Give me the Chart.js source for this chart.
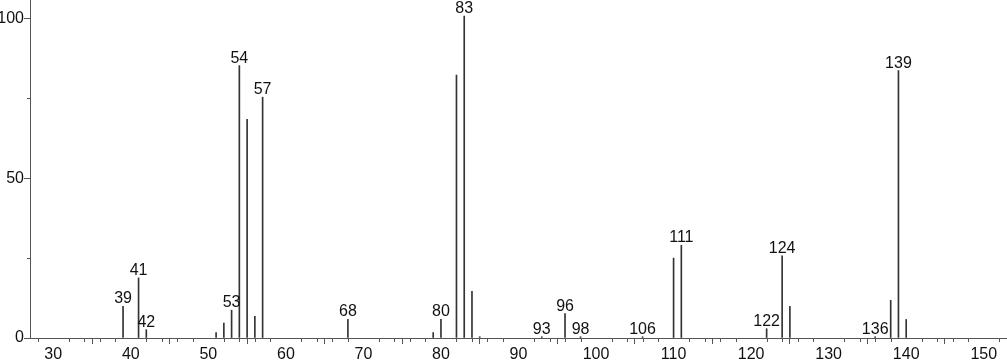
<!DOCTYPE html>
<html>
<head>
<meta charset="utf-8">
<script src="https://cdn.jsdelivr.net/npm/chart.js@4/dist/chart.umd.min.js"></script>
<style>
  html, body { margin: 0; padding: 0; background: #ffffff; }
  #wrap { width: 1007px; height: 362px; }
</style>
</head>
<body>
<div id="wrap"><canvas id="c" width="1007" height="362"></canvas></div>
<script>
// m/z values of the peaks
const mz = [39, 41, 42, 51, 52, 53, 54, 55, 56, 57, 68, 79, 80, 82, 83, 84, 85, 93, 96, 98, 106, 110, 111, 122, 124, 125, 136, 138, 139, 140];
// relative intensities (%)
const intensity = [9.9, 18.8, 2.6, 1.7, 4.7, 8.7, 85.2, 68.4, 6.8, 75.3, 5.8, 1.7, 5.8, 82.2, 100.7, 14.6, 0.4, 0.4, 7.6, 0.4, 0.4, 25.0, 29.0, 2.9, 25.7, 9.9, 0.4, 11.8, 83.6, 5.8];
// peaks that carry an m/z label
const labeledPeaks = [39, 41, 42, 53, 54, 57, 68, 80, 83, 93, 96, 98, 106, 111, 122, 124, 136, 139];
// axis ticks
const xMajorTicks = [30, 40, 50, 60, 70, 80, 90, 100, 110, 120, 130, 140, 150];
const xMinorTicks = [28, 32, 34, 36, 38, 42, 44, 46, 48, 52, 54, 56, 58, 62, 64, 66, 68, 72, 74, 76, 78, 82, 84, 86, 88, 92, 94, 96, 98, 102, 104, 106, 108, 112, 114, 116, 118, 122, 124, 126, 128, 132, 134, 136, 138, 142, 144, 146, 148, 152];
const yMajorTicks = [0, 50, 100];
const yMinorTicks = [25, 75];

const FONT_FAMILY = "'Liberation Sans Narrow', 'Arial Narrow', 'Liberation Sans', Arial, sans-serif";
const AXIS_COLOR = '#555555';
const PEAK_COLOR = '#333333';

const minorTicksPlugin = {
  id: 'minorTicks',
  afterDraw(chart) {
    const ctx = chart.ctx;
    const xs = chart.scales.x, ys = chart.scales.y;
    const area = chart.chartArea;
    ctx.save();
    ctx.strokeStyle = AXIS_COLOR;
    ctx.lineWidth = 1;
    ctx.beginPath();
    xMinorTicks.forEach(v => {
      const px = Math.round(xs.getPixelForValue(v)) + 0.5;
      ctx.moveTo(px, area.bottom);
      ctx.lineTo(px, area.bottom + 4);
    });
    yMinorTicks.forEach(v => {
      const py = Math.round(ys.getPixelForValue(v)) + 0.5;
      ctx.moveTo(area.left - 3, py);
      ctx.lineTo(area.left, py);
    });
    ctx.stroke();
    ctx.restore();
  }
};

const peakLabelPlugin = {
  id: 'peakLabels',
  afterDatasetsDraw(chart) {
    const ctx = chart.ctx;
    const meta = chart.getDatasetMeta(0);
    ctx.save();
    ctx.font = '16px ' + FONT_FAMILY;
    ctx.fillStyle = '#111111';
    ctx.textAlign = 'center';
    ctx.textBaseline = 'alphabetic';
    meta.data.forEach((el, i) => {
      if (labeledPeaks.includes(mz[i])) {
        ctx.fillText(String(mz[i]), el.x, el.y - 3);
      }
    });
    ctx.restore();
  }
};

new Chart(document.getElementById('c'), {
  type: 'bar',
  data: {
    datasets: [{
      data: mz.map((m, i) => ({ x: m, y: intensity[i] })),
      backgroundColor: PEAK_COLOR,
      borderWidth: 0,
      barThickness: 1
    }]
  },
  options: {
    responsive: false,
    devicePixelRatio: 1,
    animation: false,
    events: [],
    layout: { padding: 0 },
    plugins: { legend: { display: false }, tooltip: { enabled: false } },
    scales: {
      x: {
        type: 'linear',
        position: 'bottom',
        min: 27,
        max: 153,
        offset: false,
        afterBuildTicks(scale) { scale.ticks = xMajorTicks.map(v => ({ value: v })); },
        afterFit(scale) {
          scale.height = 24;
          scale.paddingLeft = 0; scale.paddingRight = 0;
        },
        ticks: {
          autoSkip: false, maxRotation: 0, padding: 1,
          color: '#111111',
          font: { family: FONT_FAMILY, size: 16 }
        },
        grid: { drawOnChartArea: false, drawTicks: true, tickLength: 6, color: AXIS_COLOR, tickColor: AXIS_COLOR },
        border: { display: true, color: AXIS_COLOR, width: 1 }
      },
      y: {
        type: 'linear',
        position: 'left',
        min: 0,
        max: 105.7,
        afterBuildTicks(scale) { scale.ticks = yMajorTicks.map(v => ({ value: v })); },
        afterFit(scale) {
          scale.width = 30;
          scale.paddingTop = 0; scale.paddingBottom = 0;
        },
        ticks: {
          padding: 0,
          color: '#111111',
          font: { family: FONT_FAMILY, size: 16 }
        },
        grid: { drawOnChartArea: false, drawTicks: true, tickLength: 6, color: AXIS_COLOR, tickColor: AXIS_COLOR },
        border: { display: true, color: AXIS_COLOR, width: 1 }
      }
    }
  },
  plugins: [minorTicksPlugin, peakLabelPlugin]
});
</script>
</body>
</html>
